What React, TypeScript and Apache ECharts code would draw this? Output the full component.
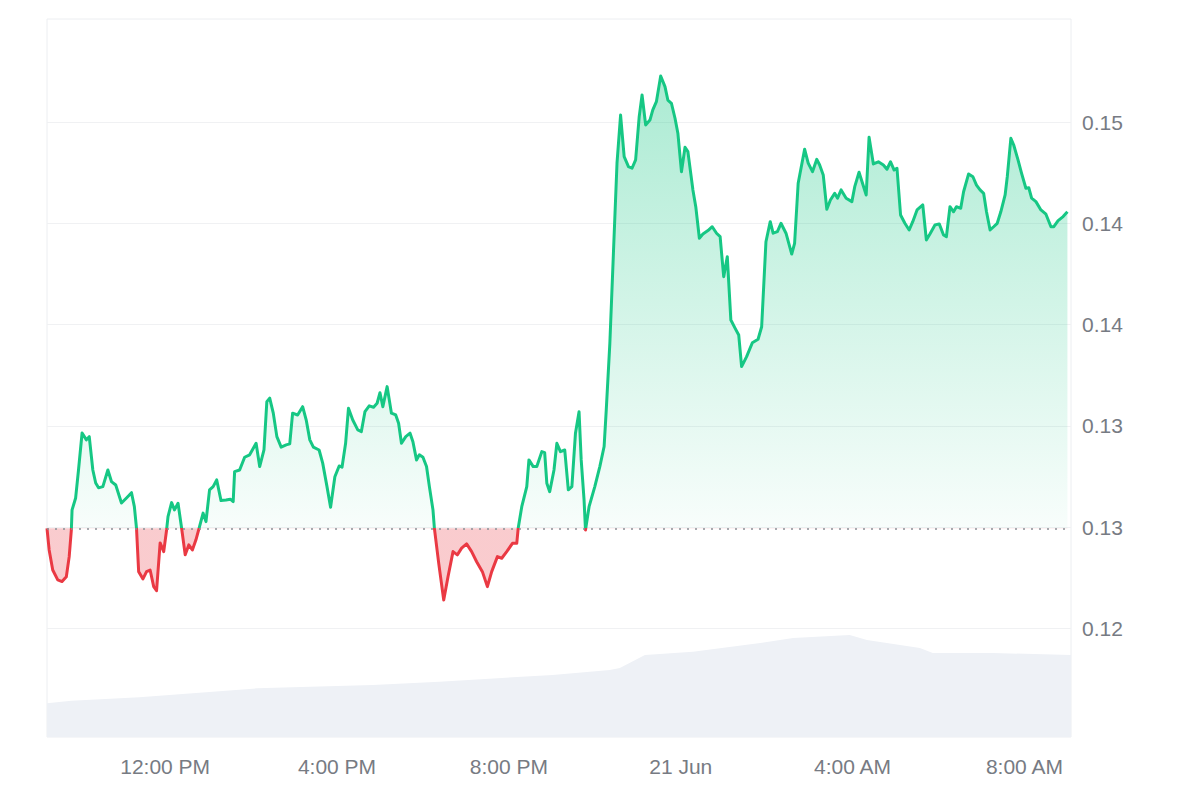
import React, { useEffect, useRef } from "react";
import * as echarts from "echarts";

// Time window: 20 Jun 09:15 -> 21 Jun 09:05 (minutes offsets from start)
const windowStartParts = [2024, 5, 20, 9, 15];
const windowLengthMinutes = 1430;
const monthNames = ["Jan", "Feb", "Mar", "Apr", "May", "Jun", "Jul", "Aug", "Sep", "Oct", "Nov", "Dec"];

const priceMinutes = [
  0, 3, 8, 15, 21, 27, 31, 34, 35, 40, 44, 49, 55, 59, 64, 68, 72, 78, 85, 90,
  96, 104, 111, 118, 122, 125, 128, 134, 139, 144, 149, 153, 158, 163, 167, 169, 174, 178, 183, 188,
  193, 198, 203, 208, 213, 218, 222, 227, 232, 237, 243, 250, 256, 260, 262, 269, 276, 283, 292, 297,
  303, 307, 311, 316, 321, 327, 334, 339, 343, 350, 357, 362, 367, 372, 380, 385, 391, 396, 402, 408,
  412, 417, 421, 427, 434, 439, 444, 450, 456, 461, 465, 469, 475, 481, 487, 491, 495, 501, 507, 511,
  516, 520, 525, 530, 534, 539, 541, 547, 554, 560, 567, 573, 579, 586, 593, 600, 608, 615, 621, 629,
  635, 642, 650, 656, 658, 663, 670, 673, 679, 684, 691, 695, 698, 702, 708, 712, 717, 723, 728, 733,
  738, 743, 746, 750, 752, 757, 765, 772, 778, 781, 786, 791, 796, 801, 806, 812, 817, 822, 827, 831,
  836, 842, 846, 851, 857, 863, 867, 872, 877, 881, 886, 891, 895, 902, 906, 911, 916, 923, 929, 935,
  940, 945, 950, 955, 961, 966, 970, 977, 985, 993, 998, 1004, 1010, 1014, 1020, 1025, 1032, 1040, 1044, 1049,
  1058, 1063, 1069, 1075, 1079, 1084, 1089, 1094, 1100, 1104, 1109, 1116, 1124, 1128, 1134, 1144, 1148, 1154, 1161, 1168,
  1173, 1178, 1183, 1187, 1192, 1198, 1204, 1209, 1215, 1223, 1228, 1233, 1240, 1246, 1252, 1256, 1261, 1266, 1270, 1276,
  1280, 1287, 1293, 1298, 1303, 1308, 1312, 1317, 1322, 1327, 1332, 1338, 1341, 1346, 1350, 1356, 1361, 1367, 1371, 1375,
  1381, 1388, 1395, 1402, 1406, 1412, 1419, 1425,
];

const priceValues = [
  0.12744, 0.12637, 0.12538, 0.12489, 0.12481, 0.12505, 0.12604, 0.12736, 0.12835, 0.12894, 0.13032, 0.13215, 0.13181, 0.13197, 0.13032, 0.12968, 0.12944, 0.1295, 0.13032, 0.12975,
  0.12958, 0.12869, 0.12894, 0.1292, 0.12851, 0.12744, 0.1253, 0.12494, 0.1253, 0.12538, 0.12456, 0.12436, 0.12672, 0.12629, 0.12736, 0.12802, 0.12871, 0.12835, 0.12868, 0.12744,
  0.12613, 0.12662, 0.12637, 0.12687, 0.12752, 0.12819, 0.12777, 0.12934, 0.1295, 0.12983, 0.12881, 0.12884, 0.12888, 0.12876, 0.13024, 0.13032, 0.13095, 0.13107, 0.13164, 0.13049,
  0.13131, 0.1337, 0.13387, 0.13313, 0.13197, 0.13145, 0.13156, 0.13161, 0.13313, 0.13304, 0.13345, 0.13279, 0.13181, 0.13145, 0.13131, 0.13066, 0.1295, 0.12848, 0.12999, 0.13052,
  0.13046, 0.13164, 0.13337, 0.13279, 0.1323, 0.13222, 0.1332, 0.13349, 0.13342, 0.13362, 0.13414, 0.13345, 0.13444, 0.13313, 0.13304, 0.13263, 0.13164, 0.13197, 0.13214, 0.13172,
  0.13082, 0.13107, 0.13095, 0.13049, 0.1295, 0.12835, 0.12744, 0.12572, 0.1239, 0.12505, 0.12629, 0.12613, 0.12646, 0.12667, 0.12629, 0.12579, 0.1253, 0.12456, 0.1253, 0.12604,
  0.12596, 0.12629, 0.1267, 0.1267, 0.12744, 0.12851, 0.1295, 0.13082, 0.13049, 0.13049, 0.13123, 0.13118, 0.12967, 0.12925, 0.13032, 0.13164, 0.13123, 0.13131, 0.12934, 0.1295,
  0.13214, 0.1332, 0.13082, 0.12884, 0.12736, 0.12851, 0.1295, 0.13049, 0.13148, 0.13329, 0.13658, 0.14103, 0.14548, 0.14786, 0.1458, 0.14531, 0.14523, 0.14564, 0.14778, 0.14885,
  0.14737, 0.14761, 0.14811, 0.14852, 0.14979, 0.14926, 0.1486, 0.14844, 0.1477, 0.14696, 0.14506, 0.14627, 0.14605, 0.14416, 0.14333, 0.14177, 0.14198, 0.14215, 0.14234, 0.14202,
  0.14185, 0.13987, 0.14086, 0.13773, 0.13732, 0.13699, 0.13543, 0.13592, 0.13661, 0.13678, 0.1374, 0.1416, 0.14259, 0.14202, 0.1421, 0.14251, 0.14202, 0.14099, 0.14152, 0.14449,
  0.14617, 0.14548, 0.14506, 0.14567, 0.14539, 0.1449, 0.1432, 0.14366, 0.14399, 0.14375, 0.14416, 0.14375, 0.14358, 0.14432, 0.14503, 0.14391, 0.14676, 0.14544, 0.14555, 0.14539,
  0.14518, 0.14555, 0.14514, 0.14523, 0.14292, 0.14251, 0.14218, 0.14259, 0.14317, 0.14342, 0.14169, 0.14198, 0.14243, 0.14248, 0.14193, 0.14185, 0.14333, 0.14308, 0.14333, 0.14325,
  0.14407, 0.14495, 0.14481, 0.1444, 0.14416, 0.14399, 0.14308, 0.14218, 0.14234, 0.14251, 0.14308, 0.14391, 0.14481, 0.14671, 0.14638, 0.14564, 0.14498, 0.14424, 0.14427, 0.14375,
  0.14358, 0.14317, 0.14296, 0.14234, 0.14234, 0.14264, 0.14284, 0.14308,
];

const volumeMinutes = [0, 34, 129, 293, 455, 548, 706, 786, 800, 835, 902, 996, 1042, 1121, 1145, 1219, 1237, 1321, 1430];
const volumeValues = [4.69, 5.06, 5.53, 6.78, 7.24, 7.7, 8.64, 9.33, 9.61, 11.42, 11.88, 13.09, 13.79, 14.21, 13.51, 12.4, 11.7, 11.7, 11.42];

const yMin = 0.1175;
const yMax = 0.1525;
const yStep = 0.005;
const volumeAxisMax = 100;

const GREEN = "#16c784";
const RED = "#ea3943";
const LABEL_COLOR = "#777b83";
const FONT = "'Liberation Sans', Arial, Helvetica, sans-serif";

export default function App() {
  const ref = useRef<HTMLDivElement>(null);

  useEffect(() => {
    if (!ref.current) return;
    const chart = echarts.init(ref.current, undefined, { renderer: "svg" });

    const start = new Date(
      windowStartParts[0], windowStartParts[1], windowStartParts[2], windowStartParts[3], windowStartParts[4], 0
    ).getTime();
    const toTime = (m: number) => start + m * 60000;
    const baseline = priceValues[0];

    const priceGridTop = 21.1;
    const priceGridBottom = 729.5;
    const frac = (yMax - baseline) / (yMax - yMin);

    const lineGradient = {
      type: "linear",
      x: 0, y: priceGridTop, x2: 0, y2: priceGridBottom,
      global: true,
      colorStops: [
        { offset: 0, color: GREEN },
        { offset: frac, color: GREEN },
        { offset: frac, color: RED },
        { offset: 1, color: RED },
      ],
    };
    const areaGradient = {
      type: "linear",
      x: 0, y: priceGridTop, x2: 0, y2: priceGridBottom,
      global: true,
      colorStops: [
        { offset: 0, color: "rgba(22,199,132,0.40)" },
        { offset: frac, color: "rgba(22,199,132,0.03)" },
        { offset: frac, color: "rgba(234,57,67,0.26)" },
        { offset: 1, color: "rgba(234,57,67,0.26)" },
      ],
    };

    const fmtTime = (val: number) => {
      const d = new Date(val);
      const h = d.getHours();
      const mi = d.getMinutes();
      if (h === 0 && mi === 0) return `${d.getDate()} ${monthNames[d.getMonth()]}`;
      const h12 = h % 12 === 0 ? 12 : h % 12;
      return `${h12}:${String(mi).padStart(2, "0")} ${h < 12 ? "AM" : "PM"}`;
    };

    const xMin = toTime(0);
    const xMax = toTime(windowLengthMinutes);

    chart.setOption({
      animation: false,
      backgroundColor: "#ffffff",
      textStyle: { fontFamily: FONT },
      grid: [
        { left: 47, right: 129, top: priceGridTop, bottom: 800 - priceGridBottom, show: false },
        {
          left: 47, right: 129, top: 19, bottom: 63, show: true,
          borderColor: "#eceef1", borderWidth: 1, backgroundColor: "transparent",
        },
      ],
      xAxis: [
        {
          type: "time", gridIndex: 0, min: xMin, max: xMax,
          axisLine: { show: false }, axisTick: { show: false },
          axisLabel: { show: false }, splitLine: { show: false },
        },
        {
          type: "time", gridIndex: 1, min: xMin, max: xMax,
          minInterval: 4 * 3600 * 1000, maxInterval: 4 * 3600 * 1000,
          axisLine: { show: false }, axisTick: { show: false }, splitLine: { show: false },
          axisLabel: {
            formatter: fmtTime, color: LABEL_COLOR, fontSize: 21, fontFamily: FONT,
            margin: 19, showMinLabel: false, showMaxLabel: false, hideOverlap: false,
          },
        },
      ],
      yAxis: [
        {
          type: "value", gridIndex: 0, position: "right",
          min: yMin, max: yMax, interval: yStep,
          axisLine: { show: false }, axisTick: { show: false },
          splitLine: { show: true, showMinLine: false, showMaxLine: false, lineStyle: { color: "#f0f1f3", width: 1 } },
          axisLabel: {
            formatter: (v: number) => v.toFixed(2), color: LABEL_COLOR, fontSize: 21, fontFamily: FONT,
            margin: 11, showMinLabel: false, showMaxLabel: false,
          },
        },
        { type: "value", gridIndex: 1, min: 0, max: volumeAxisMax, show: false, splitLine: { show: false } },
      ],
      series: [
        {
          name: "Volume", type: "line", xAxisIndex: 1, yAxisIndex: 1,
          data: volumeMinutes.map((m, i) => [toTime(m), volumeValues[i]]),
          showSymbol: false, symbol: "none",
          lineStyle: { width: 0, color: "#eef1f6" },
          areaStyle: { color: "#eef1f6", opacity: 1 },
          z: 1, silent: true,
        },
        {
          name: "Price", type: "line", xAxisIndex: 0, yAxisIndex: 0,
          data: priceMinutes.map((m, i) => [toTime(m), priceValues[i]]),
          showSymbol: false, symbol: "none",
          lineStyle: { width: 3, color: lineGradient as any, join: "round" },
          areaStyle: { color: areaGradient as any, origin: baseline, opacity: 1 },
          z: 3,
          markLine: {
            silent: true, symbol: "none", precision: 6,
            label: { show: false },
            lineStyle: { color: "#8c9097", type: [2, 6], width: 1.6 },
            data: [{ yAxis: baseline }],
          },
        },
      ],
    });

    return () => chart.dispose();
  }, []);

  return (
    <div
      ref={ref}
      style={{ position: "fixed", left: 0, top: 0, width: 1200, height: 800, background: "#ffffff" }}
    />
  );
}
